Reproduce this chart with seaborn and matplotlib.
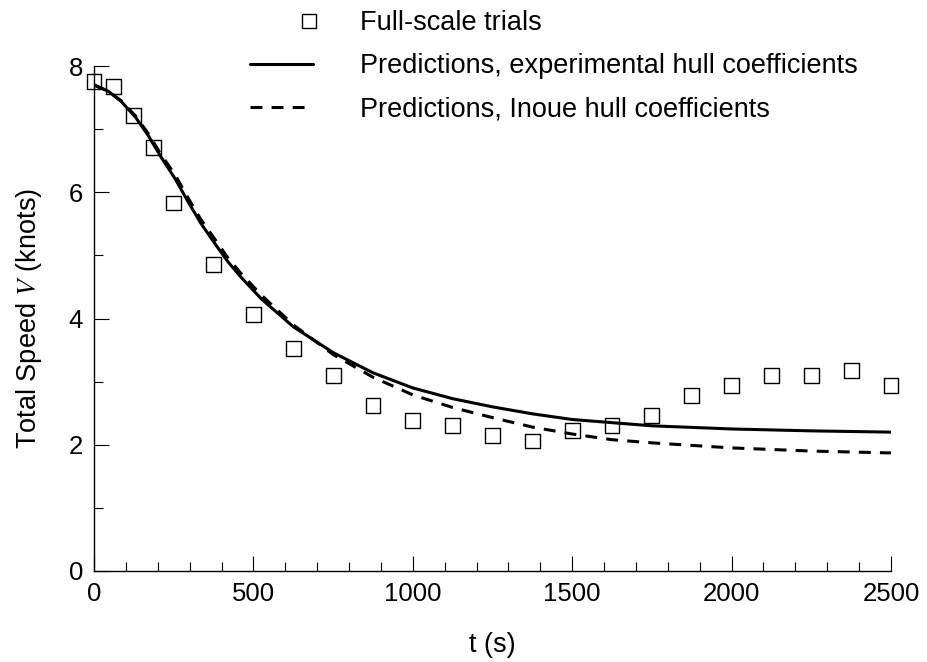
import numpy as np
import matplotlib
matplotlib.use("Agg")
import matplotlib.pyplot as plt
from matplotlib.lines import Line2D
from matplotlib.legend_handler import HandlerLine2D
from matplotlib.ticker import MultipleLocator
import seaborn as sns

sns.set_theme(style="ticks")
plt.rcParams["font.family"] = ["Liberation Sans", "DejaVu Sans"]
plt.rcParams["mathtext.fontset"] = "stix"
plt.rcParams["text.color"] = "black"
plt.rcParams["axes.labelcolor"] = "black"
plt.rcParams["xtick.color"] = "black"
plt.rcParams["ytick.color"] = "black"

# full-scale trial points
t_trial = [0, 62.5, 125, 187.5, 250, 375, 500, 625, 750, 875, 1000, 1125,
           1250, 1375, 1500, 1625, 1750, 1875, 2000, 2125, 2250, 2375, 2500]
v_trial = [7.76, 7.67, 7.21, 6.71, 5.83, 4.86, 4.06, 3.52, 3.10, 2.62, 2.38, 2.30,
           2.14, 2.06, 2.22, 2.30, 2.46, 2.78, 2.94, 3.10, 3.10, 3.17, 2.94]

# predicted curves
t_pred = [0, 45, 85, 130, 170, 210, 255, 295, 335, 380, 420, 460, 525, 625, 750,
          875, 1000, 1125, 1250, 1375, 1500, 1625, 1750, 2000, 2250, 2500]
v_exp = [7.70, 7.60, 7.44, 7.19, 6.90, 6.56, 6.21, 5.85, 5.51, 5.18, 4.90, 4.66,
         4.31, 3.87, 3.46, 3.14, 2.90, 2.73, 2.60, 2.49, 2.40, 2.35, 2.30, 2.25,
         2.22, 2.20]
v_inoue = [7.70, 7.60, 7.45, 7.21, 6.93, 6.60, 6.27, 5.91, 5.57, 5.25, 4.96, 4.72,
           4.37, 3.90, 3.43, 3.07, 2.79, 2.59, 2.43, 2.28, 2.17, 2.08, 2.03, 1.95,
           1.90, 1.87]

labels = ["Full-scale trials",
          "Predictions, experimental hull coefficients",
          "Predictions, Inoue hull coefficients"]

dash = (0, (3.9, 3))

fig = plt.figure(figsize=(9.27, 6.62), dpi=100)
ax = fig.add_axes([94 / 927, 91 / 662, 797 / 927, 505 / 662])

sns.lineplot(x=t_pred, y=v_exp, color="black", lw=2.2, ax=ax, legend=False)
sns.lineplot(x=t_pred, y=v_inoue, color="black", lw=2.2, linestyle=dash, ax=ax, legend=False)
sns.scatterplot(x=t_trial, y=v_trial, marker="s", s=115, facecolors="none",
                edgecolor="black", linewidth=1.0, ax=ax, legend=False, zorder=3,
                clip_on=False)

ax.set_xlim(0, 2500)
ax.set_ylim(0, 8)
ax.xaxis.set_major_locator(MultipleLocator(500))
ax.xaxis.set_minor_locator(MultipleLocator(100))
ax.yaxis.set_major_locator(MultipleLocator(2))
ax.yaxis.set_minor_locator(MultipleLocator(1))
ax.tick_params(which="both", direction="in", width=0.8, color="black",
               labelsize=18.5, pad=8)
ax.tick_params(which="major", length=11)
ax.tick_params(which="minor", length=6.5)
for side in ["top", "right"]:
    ax.spines[side].set_visible(False)
for side in ["left", "bottom"]:
    ax.spines[side].set_color("black")
    ax.spines[side].set_linewidth(1.0)

ax.set_xlabel("t (s)", fontsize=19.5, labelpad=19)
ax.set_ylabel("Total Speed $V$ (knots)", fontsize=19.5, labelpad=18)


# legend square sits near the right end of the handle, as in the original
class MarkerAtRight(HandlerLine2D):
    def create_artists(self, legend, orig_handle, xdescent, ydescent,
                       width, height, fontsize, trans):
        arts = super().create_artists(legend, orig_handle, xdescent, ydescent,
                                      width, height, fontsize, trans)
        for a in arts:
            n = len(a.get_xdata())
            a.set_xdata(np.full(n, -xdescent + 0.94 * width))
        return arts


h_trial = Line2D([], [], ls="none", marker="s", ms=10, mfc="none", mec="black", mew=1.0)
h_exp = Line2D([], [], color="black", lw=2.2)
h_inoue = Line2D([], [], color="black", lw=2.2, ls=dash)

fig.legend([h_trial, h_exp, h_inoue], labels, loc="upper left",
           bbox_to_anchor=(250 / 927, 1 - 10 / 662), frameon=False, fontsize=19.5,
           handlelength=2.33, handletextpad=1.73, labelspacing=0.64,
           borderpad=0, borderaxespad=0, numpoints=1,
           handler_map={h_trial: MarkerAtRight()})

fig.savefig("out.png", dpi=100)
